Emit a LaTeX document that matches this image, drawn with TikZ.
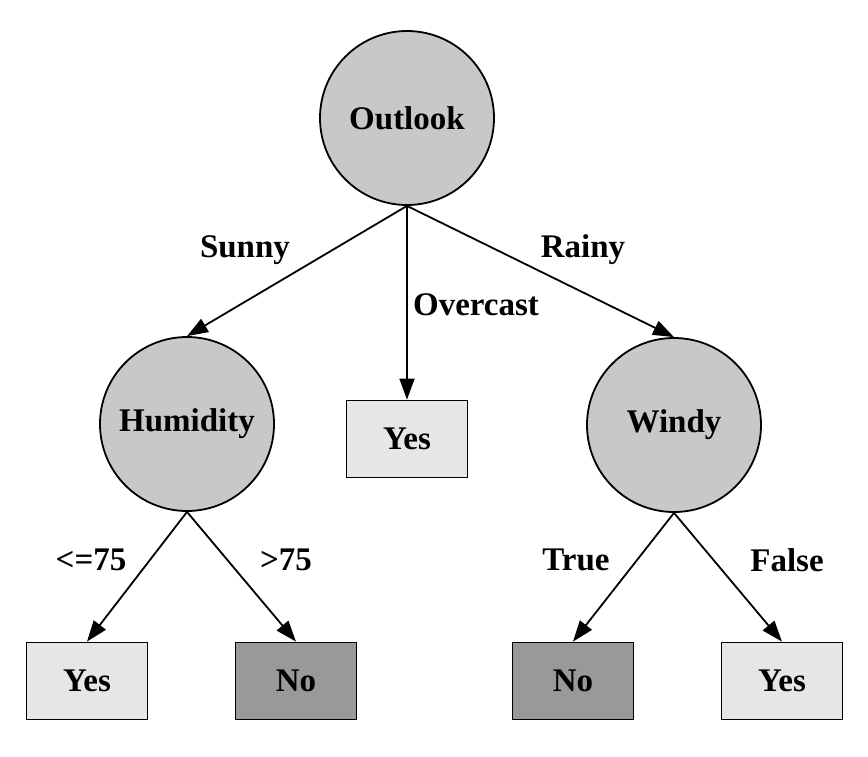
\documentclass[tikz,border=0pt]{standalone}
\usepackage{fontspec}
\setmainfont{Liberation Serif}
\usetikzlibrary{arrows.meta}

\definecolor{attrgray}{RGB}{200,200,200}
\definecolor{yesgray}{RGB}{230,230,230}
\definecolor{nogray}{RGB}{153,153,153}

\tikzset{
  txt/.style={font=\bfseries\fontsize{33}{39}\selectfont},
  attr/.style={txt,circle,draw,line width=1.8pt,fill=attrgray,minimum size=174pt,inner sep=0pt},
  leafyes/.style={txt,rectangle,draw,line width=1.8pt,fill=yesgray,minimum width=121pt,minimum height=77pt},
  leafno/.style={leafyes,fill=nogray},
  lbl/.style={txt,inner sep=0pt},
  branch/.style={line width=1.8pt,-{Triangle[length=21pt,width=15pt]}}
}

\begin{document}
\begin{tikzpicture}[x=1pt,y=-1pt]

    \useasboundingbox (0,0) rectangle (868,756);

    % attribute nodes
    \node[attr] (outlook) at (407,118) {Outlook};
    \node[attr] (humidity) at (187,424) {Humidity};
    \node[attr] (windy) at (674,425) {Windy};

    % leaves
    \node[leafyes] (overcastYes) at (407,439) {Yes};
    \node[leafyes] (humLow) at (87,681) {Yes};
    \node[leafno] (humHigh) at (296,681) {No};
    \node[leafno] (windTrue) at (573,681) {No};
    \node[leafyes] (windFalse) at (782,681) {Yes};

    % branches from the root
    \draw[branch] (outlook.south) -- (humidity.north);
    \draw[branch] (outlook.south) -- (overcastYes.north);
    \draw[branch] (outlook.south) -- (windy.north);

    % branches below
    \draw[branch] (humidity.south) -- (humLow.north);
    \draw[branch] (humidity.south) -- (humHigh.north);
    \draw[branch] (windy.south) -- (windTrue.north);
    \draw[branch] (windy.south) -- (windFalse.north);

    % branch labels
    \node[lbl] (lSunny) at (245,250) {Sunny};
    \node[lbl] (lOvercast) at (476,305) {Overcast};
    \node[lbl] (lRainy) at (583,250) {Rainy};
    \node[lbl] (lLow) at (91,560) {<=75};
    \node[lbl] (lHigh) at (286,560) {>75};
    \node[lbl] (lTrue) at (576,560) {True};
    \node[lbl] (lFalse) at (787,560) {False};

\end{tikzpicture}
\end{document}
